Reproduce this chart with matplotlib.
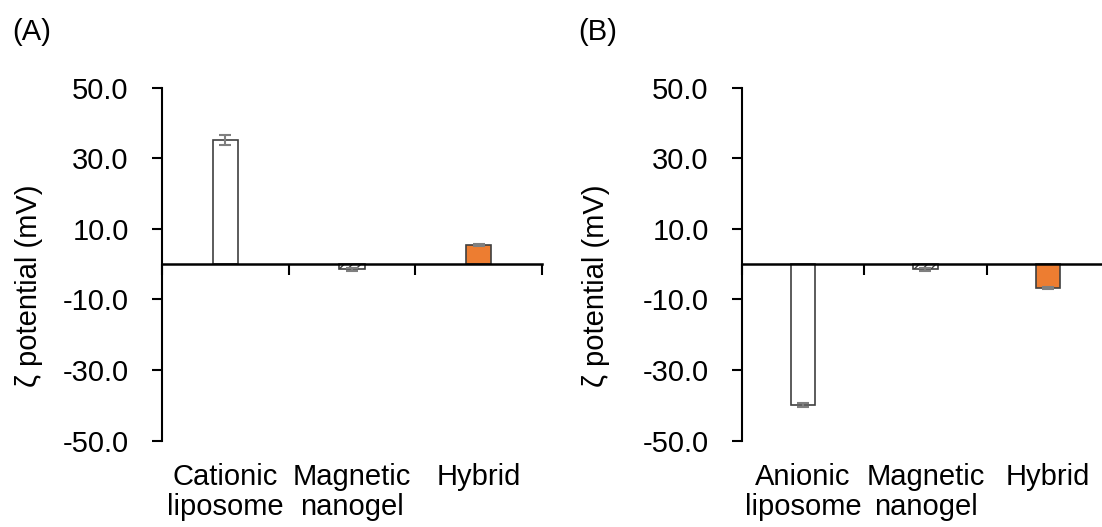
import numpy as np
import matplotlib
matplotlib.use("Agg")
import matplotlib.pyplot as plt
import matplotlib.transforms as mtransforms

plt.rcParams['font.family'] = ['Liberation Sans', 'DejaVu Sans']

# ======== DATA ========
labels_a = ["Cationic\nliposome", "Magnetic\nnanogel", "Hybrid"]
values_a = [35.1, -1.5, 5.3]
errors_a = [1.4, 0.5, 0.3]

labels_b = ["Anionic\nliposome", "Magnetic\nnanogel", "Hybrid"]
values_b = [-40.0, -1.5, -6.8]
errors_b = [0.5, 0.5, 0.3]

yticks = [-50.0, -30.0, -10.0, 10.0, 30.0, 50.0]

# ======== STYLE ========
faces = ["white", "white", "#ED7D31"]
hatches = [None, "////", None]
FS = 21


def draw_panel(ax, labels, values, errors):
    x = np.arange(len(values))
    for i in range(len(values)):
        ax.bar(x[i], values[i], width=0.2, color=faces[i], edgecolor="#404040",
               linewidth=1.2, hatch=hatches[i], zorder=2)
        ax.errorbar(x[i], values[i], yerr=errors[i], fmt="none", ecolor="#7f7f7f",
                    elinewidth=1.5, capsize=4, capthick=1.5, zorder=3)
    ax.set_xlim(-0.5, len(values) - 0.5)
    ax.set_ylim(-50, 50)
    ax.set_yticks(yticks)
    ax.set_yticklabels([f"{t:.1f}" for t in yticks], fontsize=FS)
    ax.set_xticks(np.arange(len(values) + 1) - 0.5)
    ax.set_xticklabels([])
    for s in ["top", "right"]:
        ax.spines[s].set_visible(False)
    ax.spines["bottom"].set_position(("data", 0))
    ax.spines["bottom"].set_linewidth(1.8)
    ax.spines["left"].set_linewidth(1.5)
    ax.tick_params(axis="y", direction="out", length=7, width=1.5, pad=17)
    ax.tick_params(axis="x", direction="out", length=8, width=1.5)
    # category names sit under the plot, not at the zero line
    trans = mtransforms.blended_transform_factory(ax.transData, ax.transAxes)
    for i, lab in enumerate(labels):
        ax.text(x[i], -0.063, lab, transform=trans, ha="center", va="top",
                fontsize=FS, linespacing=1.1)
    ax.set_ylabel("ζ potential (mV)", fontsize=FS)


fig = plt.figure(figsize=(11.02, 5.27), dpi=100)
ax1 = fig.add_axes([0.1470, 0.1641, 0.3448, 0.6698])
ax2 = fig.add_axes([0.6733, 0.1641, 0.3330, 0.6698])

draw_panel(ax1, labels_a, values_a, errors_a)
draw_panel(ax2, labels_b, values_b, errors_b)
ax1.yaxis.set_label_coords(-119 / 380, 0.438)
ax2.yaxis.set_label_coords(-132 / 367, 0.438)

fig.text(0.011, 0.939, "(A)", fontsize=FS, va="center", ha="left")
fig.text(0.5245, 0.939, "(B)", fontsize=FS, va="center", ha="left")

fig.savefig("out.png", dpi=100)
